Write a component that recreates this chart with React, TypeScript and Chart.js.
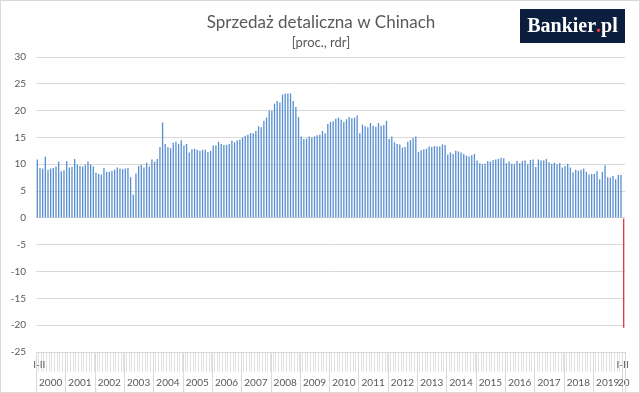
import React, { useEffect, useRef } from "react";
import { Chart, registerables } from "chart.js";

Chart.register(...registerables);

// ---- data (retail sales, % y/y) ----
const yearLabels = ["2000", "2001", "2002", "2003", "2004", "2005", "2006", "2007", "2008", "2009", "2010", "2011", "2012", "2013", "2014", "2015", "2016", "2017", "2018", "2019", "20"];
const monthLabels = ["I-II", "III", "IV", "V", "VI", "VII", "VIII", "IX", "X", "XI", "XII"];

const y2000 = [10.9, 9.3, 9.2, 11.4, 9.0, 9.2, 9.3, 9.6, 10.5, 8.7, 8.9];
const y2001 = [10.6, 9.4, 9.5, 11.0, 9.9, 9.7, 9.6, 9.9, 10.5, 10.0, 9.6];
const y2002 = [8.4, 8.2, 8.1, 9.3, 8.6, 8.6, 8.8, 9.0, 9.4, 9.2, 9.1];
const y2003 = [9.2, 9.3, 7.6, 4.3, 8.3, 9.7, 9.9, 9.4, 10.3, 9.6, 10.9];
const y2004 = [10.5, 11.0, 13.2, 17.8, 13.8, 13.2, 13.0, 14.0, 14.2, 13.8, 14.5];
const y2005 = [13.5, 13.8, 12.2, 12.8, 12.9, 12.7, 12.5, 12.7, 12.7, 12.3, 12.5];
const y2006 = [13.5, 13.5, 14.2, 13.8, 13.6, 13.6, 13.8, 14.4, 14.1, 14.5, 14.6];
const y2007 = [15.0, 15.3, 15.5, 15.8, 15.8, 16.2, 17.1, 16.9, 18.1, 18.7, 20.0];
const y2008 = [20.0, 21.3, 21.8, 21.5, 23.0, 23.2, 23.2, 23.2, 21.8, 20.7, 18.8];
const y2009 = [15.2, 14.7, 14.8, 15.2, 15.0, 15.2, 15.4, 15.5, 16.2, 15.8, 17.5];
const y2010 = [17.9, 18.0, 18.5, 18.7, 18.3, 17.9, 18.4, 18.8, 18.6, 18.7, 19.1];
const y2011 = [15.8, 17.4, 17.1, 16.9, 17.7, 17.2, 17.0, 17.7, 17.2, 17.3, 18.1];
const y2012 = [14.7, 15.2, 14.1, 13.8, 13.7, 13.1, 13.2, 14.2, 14.5, 14.9, 15.2];
const y2013 = [12.3, 12.6, 12.8, 12.9, 13.3, 13.2, 13.4, 13.3, 13.3, 13.7, 13.6];
const y2014 = [11.8, 12.2, 11.9, 12.5, 12.4, 12.2, 11.9, 11.6, 11.5, 11.7, 11.9];
const y2015 = [10.7, 10.2, 10.0, 10.1, 10.6, 10.5, 10.8, 10.9, 11.0, 11.2, 11.1];
const y2016 = [10.2, 10.5, 10.1, 10.0, 10.6, 10.2, 10.6, 10.7, 10.0, 10.8, 10.9];
const y2017 = [9.5, 10.9, 10.7, 10.7, 11.0, 10.4, 10.1, 10.3, 10.0, 10.2, 9.4];
const y2018 = [9.7, 10.1, 9.4, 8.5, 9.0, 8.8, 9.0, 9.2, 8.6, 8.1, 8.2];
const y2019 = [8.2, 8.7, 7.2, 8.6, 9.8, 7.6, 7.5, 7.8, 7.2, 8.0, 8.0];
const y2020 = [-20.5];

const yearValues = [y2000, y2001, y2002, y2003, y2004, y2005, y2006, y2007, y2008, y2009, y2010, y2011, y2012, y2013, y2014, y2015, y2016, y2017, y2018, y2019, y2020];

const yTicks = [-25, -20, -15, -10, -5, 0, 5, 10, 15, 20, 25, 30];

const TITLE = "Sprzedaż detaliczna w Chinach";
const SUBTITLE = "[proc., rdr]";

const BLUE = "#5b90d0";
const RED = "#e8393c";
const TEXT = "#595959";
const GRID = "#d9d9d9";

// build category table
const labels: string[] = [];
const values: number[] = [];
yearValues.forEach((arr) => {
  arr.forEach((v, mi) => {
    labels.push(monthLabels[mi]);
    values.push(v);
  });
});

const decorPlugin = {
  id: "decor",
  afterDraw(chart: any) {
    const { ctx, chartArea, scales } = chart;
    const x = scales.x;
    const W = chart.width;
    const H = chart.height;
    const total = values.length;
    ctx.save();

    // frame
    ctx.strokeStyle = GRID;
    ctx.lineWidth = 1;
    ctx.strokeRect(0.5, 0.5, W - 1, H - 1);

    // titles
    ctx.fillStyle = TEXT;
    ctx.textAlign = "center";
    ctx.textBaseline = "alphabetic";
    ctx.font = "17px Lato";
    ctx.fillText(TITLE, 321, 28);
    ctx.font = "13px Lato";
    ctx.fillText(SUBTITLE, 321, 47);

    // logo
    ctx.fillStyle = "#0c1e3e";
    ctx.fillRect(520, 9, 105, 34);
    ctx.font = "bold 20px 'Liberation Serif'";
    ctx.textAlign = "left";
    const p1 = "Bankier";
    const p2 = ".";
    const p3 = "pl";
    const w1 = ctx.measureText(p1).width;
    const w2 = ctx.measureText(p2).width;
    const w3 = ctx.measureText(p3).width;
    let lx = 572.5 - (w1 + w2 + w3) / 2;
    ctx.fillStyle = "#ffffff";
    ctx.fillText(p1, lx, 32);
    lx += w1;
    ctx.fillStyle = "#e2402e";
    ctx.fillText(p2, lx, 32);
    lx += w2;
    ctx.fillStyle = "#ffffff";
    ctx.fillText(p3, lx, 32);

    // category axis band: I-II labels, year separators and year labels
    const bottom = chartArea.bottom;
    ctx.font = "10px Lato";
    ctx.fillStyle = TEXT;
    ctx.textAlign = "center";
    ctx.textBaseline = "middle";
    ctx.fillText(monthLabels[0], x.getPixelForValue(0) + 2, 365);
    ctx.fillText(monthLabels[0], x.getPixelForValue(total - 1) - 1, 365);

    ctx.strokeStyle = GRID;
    ctx.lineWidth = 1;
    ctx.font = "10px Lato";
    let idx = 0;
    yearValues.forEach((arr, yi) => {
      const n = arr.length;
      const start = idx === 0 ? chartArea.left : (x.getPixelForValue(idx - 1) + x.getPixelForValue(idx)) / 2;
      const endIdx = idx + n - 1;
      const end = endIdx === total - 1 ? chartArea.right : (x.getPixelForValue(endIdx) + x.getPixelForValue(endIdx + 1)) / 2;
      const sx = Math.round(start) + 0.5;
      ctx.beginPath();
      ctx.moveTo(sx, bottom);
      ctx.lineTo(sx, H);
      ctx.stroke();
      ctx.fillStyle = TEXT;
      ctx.fillText(yearLabels[yi], (start + end) / 2, 383);
      idx += n;
    });
    const ex = Math.round(chartArea.right) + 0.5;
    ctx.beginPath();
    ctx.moveTo(ex, bottom);
    ctx.lineTo(ex, H);
    ctx.stroke();

    ctx.restore();
  },
};

export default function App() {
  const ref = useRef<HTMLCanvasElement | null>(null);

  useEffect(() => {
    document.body.style.margin = "0";
    const canvas = ref.current;
    if (!canvas) return;
    const chart = new Chart(canvas, {
      type: "bar",
      data: {
        labels,
        datasets: [
          {
            data: values,
            backgroundColor: values.map((v) => (v < 0 ? RED : BLUE)),
            borderWidth: 0,
            barPercentage: 0.5,
            categoryPercentage: 1,
          },
        ],
      },
      options: {
        responsive: false,
        animation: false,
        devicePixelRatio: 1,
        layout: { padding: { top: 57, right: 15, bottom: 0, left: 0 } },
        plugins: {
          legend: { display: false },
          tooltip: { enabled: false },
          title: { display: false },
        },
        scales: {
          x: {
            type: "category",
            position: "bottom",
            offset: true,
            grid: {
              display: true,
              drawOnChartArea: false,
              drawTicks: true,
              tickLength: 20,
              color: "#e2e2e2",
              offset: true,
            },
            border: { display: true, color: GRID },
            ticks: { display: false, autoSkip: false },
            afterFit: (scale: any) => {
              scale.height = 41;
            },
          },
          y: {
            min: -25,
            max: 30,
            afterBuildTicks: (scale: any) => {
              scale.ticks = yTicks.map((v) => ({ value: v }));
            },
            grid: { color: GRID, drawTicks: false, lineWidth: 1 },
            border: { display: false },
            ticks: {
              color: TEXT,
              padding: 10,
              font: { family: "Lato", size: 10 },
            },
            afterFit: (scale: any) => {
              scale.width = 36;
            },
          },
        },
      },
      plugins: [decorPlugin],
    });
    return () => chart.destroy();
  }, []);

  return (
    <div style={{ width: 640, height: 393, position: "relative" }}>
      <canvas ref={ref} width={640} height={393} style={{ display: "block" }} />
    </div>
  );
}
